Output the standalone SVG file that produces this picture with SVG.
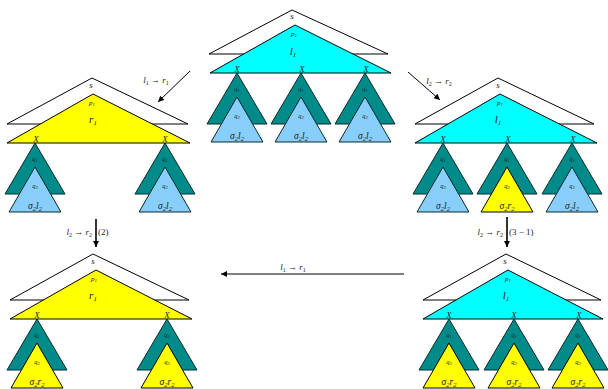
<svg xmlns="http://www.w3.org/2000/svg" xmlns:xlink="http://www.w3.org/1999/xlink" width="608" height="389" viewBox="0 0 608 389">
<style>
.w{fill:#fff;stroke:#000;stroke-width:1}
.c{fill:#00ffff;stroke:#000;stroke-width:1}
.y{fill:#ffff00;stroke:#000;stroke-width:1}
.t{fill:#008b8b;stroke:#0a2a2a;stroke-width:1}
.b{fill:#87cefa;stroke:#0a2a2a;stroke-width:1}
text{font-family:"Liberation Serif","DejaVu Serif",serif;fill:#222;text-anchor:middle}
.m{font-style:italic}
.s{font-size:9px}
.p{font-size:7px}
.l{font-size:11px}
.x{font-size:9px}
.q{font-size:6.5px}
.g{font-size:9.5px}
.a{font-size:9px}
.ln{stroke:#000;stroke-width:1;fill:none}
.lt{stroke:#000;stroke-width:1.6;fill:none}
</style>
<defs>
<marker id="ah" viewBox="0 0 10 10" refX="10" refY="5" markerWidth="8" markerHeight="6" markerUnits="userSpaceOnUse" orient="auto">
<path d="M0,0 L10,5 L0,10 Z" fill="#000"/>
</marker>
<g id="tb">
<polygon class="t" points="0,0 -30,51 30,51"/>
<polygon class="b" points="0,24 -26,69 26,69"/>
<text class="m q" x="0" y="18">q<tspan font-size="4.5" dy="1">1</tspan></text>
<text class="m q" x="0" y="45">q<tspan font-size="4.5" dy="1">2</tspan></text>
<text class="m g" x="0" y="66">σ<tspan font-size="6.5" dy="1.5">2</tspan><tspan dy="-1.5">l</tspan><tspan font-size="6.5" dy="1.5">2</tspan></text>
</g>
<g id="ty">
<polygon class="t" points="0,0 -30,51 30,51"/>
<polygon class="y" points="0,24 -26,69 26,69"/>
<text class="m q" x="0" y="18">q<tspan font-size="4.5" dy="1">1</tspan></text>
<text class="m q" x="0" y="45">q<tspan font-size="4.5" dy="1">2</tspan></text>
<text class="m g" x="0" y="66">σ<tspan font-size="6.5" dy="1.5">2</tspan><tspan dy="-1.5">r</tspan><tspan font-size="6.5" dy="1.5">2</tspan></text>
</g>
</defs>

<g id="top">
<polygon class="w" points="292,10 209,54 388,54"/>
<polygon class="c" points="295,25 210,73 391,73"/>
<text class="m s" x="292" y="19">s</text>
<text class="m p" x="294" y="36">p<tspan font-size="5" dy="1">1</tspan></text>
<text class="m l" x="293" y="55">l<tspan font-size="7" dy="2">1</tspan></text>
<text class="m x" x="237" y="72">X</text>
<text class="m x" x="302" y="72">X</text>
<text class="m x" x="366" y="72">X</text>
<use xlink:href="#tb" x="237" y="73"/>
<use xlink:href="#tb" x="301" y="73"/>
<use xlink:href="#tb" x="365" y="73"/>
</g>

<g id="left">
<polygon class="w" points="92,78 7,124 188,124"/>
<polygon class="y" points="93,94 7,143 190,143"/>
<text class="m s" x="91" y="88">s</text>
<text class="m p" x="92" y="105">p<tspan font-size="5" dy="1">1</tspan></text>
<text class="m l" x="93" y="123">r<tspan font-size="7" dy="2">1</tspan></text>
<text class="m x" x="36" y="142">X</text>
<text class="m x" x="165" y="142">X</text>
<use xlink:href="#tb" x="35" y="143"/>
<use xlink:href="#tb" x="165" y="143"/>
</g>

<g id="right">
<polygon class="w" points="498,78 415,124 594,124"/>
<polygon class="c" points="500,94 415,143 597,143"/>
<text class="m s" x="498" y="88">s</text>
<text class="m p" x="500" y="105">p<tspan font-size="5" dy="1">1</tspan></text>
<text class="m l" x="498" y="123">l<tspan font-size="7" dy="2">1</tspan></text>
<text class="m x" x="443" y="142">X</text>
<text class="m x" x="508" y="142">X</text>
<text class="m x" x="573" y="142">X</text>
<use xlink:href="#tb" x="443" y="143"/>
<use xlink:href="#ty" x="507" y="143"/>
<use xlink:href="#tb" x="572" y="143"/>
</g>

<g id="bottomleft">
<polygon class="w" points="93,254 10,300 189,300"/>
<polygon class="y" points="96,270 10,319 192,319"/>
<text class="m s" x="93" y="264">s</text>
<text class="m p" x="94" y="281">p<tspan font-size="5" dy="1">1</tspan></text>
<text class="m l" x="93" y="299">r<tspan font-size="7" dy="2">1</tspan></text>
<text class="m x" x="37" y="318">X</text>
<text class="m x" x="167" y="318">X</text>
<use xlink:href="#ty" x="37" y="319"/>
<use xlink:href="#ty" x="167" y="319"/>
</g>

<g id="bottomright">
<polygon class="w" points="506,254 423,300 601,300"/>
<polygon class="c" points="508,270 423,319 603,319"/>
<text class="m s" x="505" y="264">s</text>
<text class="m p" x="508" y="281">p<tspan font-size="5" dy="1">1</tspan></text>
<text class="m l" x="506" y="299">l<tspan font-size="7" dy="2">1</tspan></text>
<text class="m x" x="449" y="318">X</text>
<text class="m x" x="514" y="318">X</text>
<text class="m x" x="579" y="318">X</text>
<use xlink:href="#ty" x="449" y="319"/>
<use xlink:href="#ty" x="514" y="319"/>
<use xlink:href="#ty" x="578" y="319"/>
</g>

<g id="connectors">
<line class="ln" x1="190" y1="71" x2="158" y2="102" marker-end="url(#ah)"/>
<text class="a" x="156" y="83"><tspan class="m">l</tspan><tspan font-size="6" dy="1.5">1</tspan><tspan dy="-1.5"> → </tspan><tspan class="m">r</tspan><tspan font-size="6" dy="1.5">1</tspan></text>
<line class="ln" x1="408" y1="72" x2="440" y2="100" marker-end="url(#ah)"/>
<text class="a" x="439" y="84"><tspan class="m">l</tspan><tspan font-size="6" dy="1.5">2</tspan><tspan dy="-1.5"> → </tspan><tspan class="m">r</tspan><tspan font-size="6" dy="1.5">2</tspan></text>
<line class="ln" x1="404" y1="274" x2="221" y2="274" marker-end="url(#ah)"/>
<text class="a" x="293" y="270"><tspan class="m">l</tspan><tspan font-size="6" dy="1.5">1</tspan><tspan dy="-1.5"> → </tspan><tspan class="m">r</tspan><tspan font-size="6" dy="1.5">1</tspan></text>
<line class="lt" x1="96" y1="219" x2="96" y2="247" marker-end="url(#ah)"/>
<text class="a" x="92" y="235" text-anchor="end" style="text-anchor:end"><tspan class="m">l</tspan><tspan font-size="6" dy="1.5">2</tspan><tspan dy="-1.5"> → </tspan><tspan class="m">r</tspan><tspan font-size="6" dy="1.5">2</tspan></text>
<text class="a" x="98" y="235" style="text-anchor:start">(2)</text>
<line class="lt" x1="507" y1="217" x2="507" y2="247" marker-end="url(#ah)"/>
<text class="a" x="503" y="235" style="text-anchor:end"><tspan class="m">l</tspan><tspan font-size="6" dy="1.5">2</tspan><tspan dy="-1.5"> → </tspan><tspan class="m">r</tspan><tspan font-size="6" dy="1.5">2</tspan></text>
<text class="a" x="509" y="235" style="text-anchor:start">(3 − 1)</text>
</g>
</svg>
